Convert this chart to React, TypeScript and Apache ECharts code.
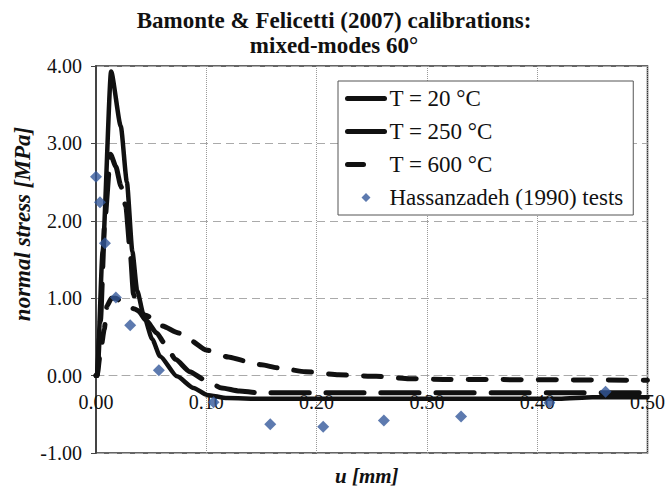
import React, { useEffect, useRef } from "react";
import * as echarts from "echarts";

const titleText = "Bamonte & Felicetti (2007) calibrations:\nmixed-modes 60°";
const xName = "u [mm]";
const yName = "normal stress [MPa]";
const seriesNames = ["T = 20 °C", "T = 250 °C", "T = 600 °C", "Hassanzadeh (1990) tests"];

const t20U = [0, 0.001, 0.006, 0.0137, 0.0225, 0.028, 0.033, 0.0373, 0.0434, 0.051, 0.058, 0.0734, 0.0885, 0.1006, 0.119, 0.15, 0.3, 0.42, 0.45, 0.5];
const t20S = [0, 0, 1.6, 3.93, 3.22, 2.5, 1.6, 1.1, 0.77, 0.47, 0.25, -0.01, -0.16, -0.25, -0.29, -0.3, -0.3, -0.3, -0.28, -0.28];

const t250U = [0, 0.001, 0.004, 0.008, 0.0132, 0.018, 0.0225, 0.027, 0.031, 0.034, 0.038, 0.045, 0.055, 0.063, 0.072, 0.085, 0.098, 0.114, 0.13, 0.146, 0.2, 0.5];
const t250S = [0, 0, 0.7, 2.0, 2.86, 2.7, 2.45, 2.19, 1.6, 1.05, 0.85, 0.72, 0.55, 0.4, 0.21, 0.05, -0.05, -0.16, -0.2, -0.22, -0.22, -0.22];

const t600U = [0, 0.001, 0.004, 0.0075, 0.01, 0.014, 0.018, 0.025, 0.035, 0.045, 0.06, 0.075, 0.085, 0.1, 0.12, 0.135, 0.15, 0.165, 0.19, 0.22, 0.254, 0.284, 0.32, 0.5];
const t600S = [0, 0, 0.3, 0.6, 0.9, 1.0, 1.0, 0.93, 0.86, 0.78, 0.64, 0.55, 0.46, 0.33, 0.24, 0.19, 0.14, 0.1, 0.05, 0.01, -0.01, -0.04, -0.05, -0.06];

const testU = [0.0, 0.0036, 0.0081, 0.018, 0.031, 0.057, 0.1066, 0.158, 0.206, 0.261, 0.331, 0.411, 0.462];
const testS = [2.57, 2.24, 1.71, 1.01, 0.65, 0.07, -0.345, -0.63, -0.66, -0.58, -0.53, -0.35, -0.21];

const zip = (u: number[], s: number[]) => u.map((x, i) => [x, s[i]]);

const FONT = "Liberation Serif";
const DIAMOND_ICON =
  "path://M0,0L0.01,0L0.01,0.01Z M37,14L36.99,14L36.99,13.99Z M18.5,2.5L23,7L18.5,11.5L14,7Z";

const Y_MIN = -1;
const Y_MAX = 4;
const GRID_TOP = 66;
const GRID_BOTTOM = 38;
const CHART_H = 491;

export default function App() {
  const ref = useRef<HTMLDivElement>(null);
  useEffect(() => {
    if (!ref.current) return;
    const chart = echarts.init(ref.current, null, { renderer: "svg" });
    const lineBase = { type: "line", showSymbol: false, symbol: "none", smooth: 0.2, smoothMonotone: "x" };
    const hiddenSym = { color: "rgba(0,0,0,0)", borderWidth: 0 };
    const plotH = CHART_H - GRID_TOP - GRID_BOTTOM;
    const zeroOffset = -(plotH * (0 - Y_MIN)) / (Y_MAX - Y_MIN);
    chart.setOption({
      animation: false,
      backgroundColor: "#fff",
      title: [
        {
          text: titleText,
          left: "center",
          top: 3,
          textStyle: { fontFamily: FONT, fontWeight: "bold", fontSize: 23, lineHeight: 25, color: "#111" },
        },
        {
          text: xName,
          left: 330,
          top: 460,
          textStyle: { fontFamily: FONT, fontWeight: "bold", fontStyle: "italic", fontSize: 21, color: "#111" },
        },
      ],
      graphic: [
        {
          type: "text",
          x: 22,
          y: 224,
          rotation: Math.PI / 2,
          style: {
            text: yName,
            fontFamily: FONT,
            fontWeight: "bold",
            fontStyle: "italic",
            fontSize: 23,
            fill: "#111",
            textAlign: "center",
            textVerticalAlign: "middle",
          },
        },
      ],
      grid: { left: 96, right: 20, top: GRID_TOP, bottom: GRID_BOTTOM, show: true, borderColor: "#333", borderWidth: 1.5, backgroundColor: "#fff" },
      legend: {
        orient: "vertical",
        left: 338,
        top: 81,
        itemWidth: 37,
        itemHeight: 14,
        itemGap: 10,
        padding: [6, 10, 6, 7],
        backgroundColor: "#fff",
        borderColor: "#555",
        borderWidth: 1,
        borderRadius: 0,
        textStyle: { fontFamily: FONT, fontSize: 23, color: "#111" },
        data: [
          { name: seriesNames[0], itemStyle: hiddenSym, lineStyle: { color: "#111", width: 5, type: "solid", cap: "round" } },
          { name: seriesNames[1], itemStyle: hiddenSym, lineStyle: { color: "#111", width: 5, type: "solid", cap: "round" } },
          { name: seriesNames[2], itemStyle: hiddenSym, lineStyle: { color: "#111", width: 5, type: [16, 40], cap: "round" } },
          { name: seriesNames[3], icon: DIAMOND_ICON },
        ],
      },
      xAxis: {
        type: "value",
        min: 0,
        max: 0.5,
        interval: 0.1,
        offset: zeroOffset,
        axisLine: { show: true, onZero: false, lineStyle: { color: "#aaa", type: [8, 5], width: 1 } },
        axisTick: { show: false },
        axisLabel: { fontFamily: FONT, fontSize: 20, color: "#111", margin: 16, formatter: (v: number) => v.toFixed(2) },
        splitLine: { show: true, lineStyle: { color: "#999", type: "dotted", width: 1 } },
      },
      yAxis: {
        type: "value",
        min: Y_MIN,
        max: Y_MAX,
        interval: 1,
        axisLine: { show: true, lineStyle: { color: "#444", width: 2 } },
        axisTick: { show: true, inside: false, length: 5, lineStyle: { color: "#444" } },
        axisLabel: { fontFamily: FONT, fontSize: 20, color: "#111", margin: 14, formatter: (v: number) => v.toFixed(2) },
        splitLine: { show: true, lineStyle: { color: "#aaa", type: [8, 5], width: 1 } },
      },
      series: [
        {
          ...lineBase,
          name: seriesNames[2],
          data: zip(t600U, t600S),
          lineStyle: { color: "#111", width: 5, type: [18, 17], cap: "round" },
          itemStyle: { color: "#111" },
          z: 2,
        },
        {
          ...lineBase,
          name: seriesNames[1],
          data: zip(t250U, t250S),
          lineStyle: { color: "#111", width: 5, type: [38, 17], cap: "round" },
          itemStyle: { color: "#111" },
          z: 3,
        },
        {
          ...lineBase,
          name: seriesNames[0],
          data: zip(t20U, t20S),
          lineStyle: { color: "#111", width: 4.5, type: "solid", cap: "round" },
          itemStyle: { color: "#111" },
          z: 4,
        },
        {
          type: "scatter",
          name: seriesNames[3],
          data: zip(testU, testS),
          symbol: "diamond",
          symbolSize: 12,
          itemStyle: { color: "#34599B" },
          z: 5,
        },
      ],
    });
    return () => chart.dispose();
  }, []);
  return <div ref={ref} style={{ width: 668, height: 491, position: "absolute", left: 0, top: 0 }} />;
}
